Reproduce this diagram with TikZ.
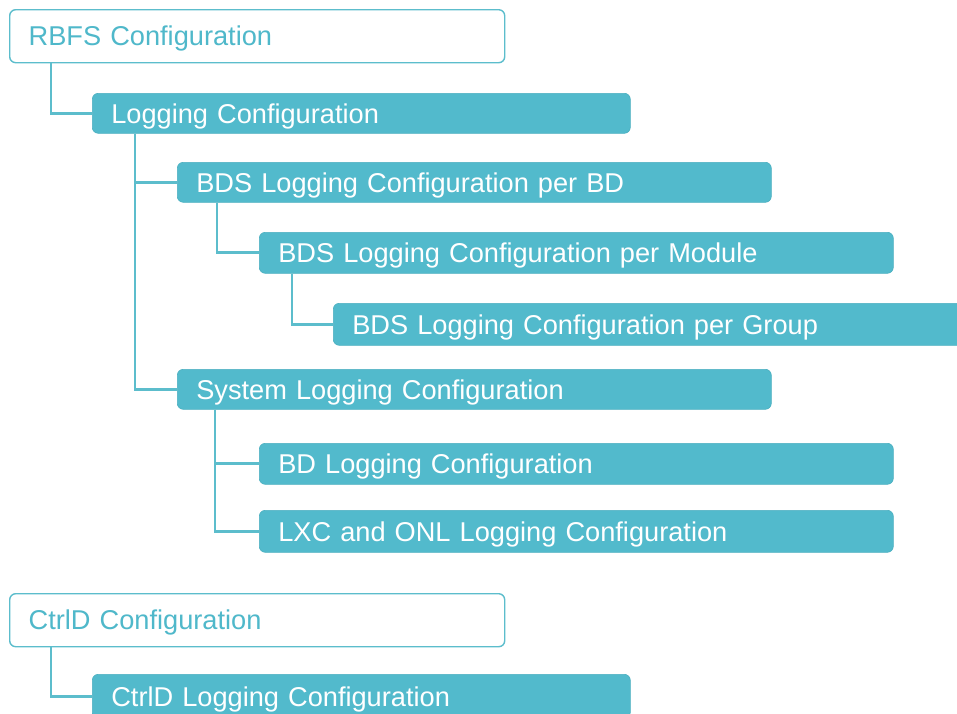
\documentclass[tikz,border=0pt]{standalone}
\usepackage{fontspec}
\setmainfont{Liberation Sans}
\definecolor{teal1}{HTML}{52BACC}
\definecolor{tealline}{HTML}{5CBDCC}
\definecolor{tealtext}{HTML}{4FB8CA}
\definecolor{filledge}{HTML}{4AAFC0}
\begin{document}
\begin{tikzpicture}[x=1pt,y=-1pt,
  base/.style={rectangle, rounded corners=6pt, anchor=north west, align=left,
    inner xsep=19pt, inner ysep=0pt, text height=19.5pt, text depth=0pt,
    font=\fontsize{27.2}{31}\selectfont},
  topbox/.style={base, draw=tealline, line width=1.4pt, fill=white, text=tealtext},
  subbox/.style={base, draw=filledge, line width=0.6pt, fill=teal1, text=white},
  conn/.style={draw=tealline, line width=2.8pt}]
\useasboundingbox (0,0) rectangle (957,713);
\clip (0,0) rectangle (957,713);
% nodes
\node[topbox, text width=457pt, minimum height=53pt] (rbfs) at (9,9) {RBFS Configuration};
\node[subbox, text width=500pt, minimum height=40pt] (log) at (92,93) {Logging Configuration};
\node[subbox, text width=556pt, minimum height=40pt] (bdsbd) at (177,162) {BDS Logging Configuration per BD};
\node[subbox, text width=596pt, minimum height=41pt] (bdsmod) at (259,232) {BDS Logging Configuration per Module};
\node[subbox, text width=602pt, minimum height=42pt] (bdsgrp) at (333,303) {BDS Logging Configuration per Group};
\node[subbox, text width=556pt, minimum height=40pt] (sys) at (177,369) {System Logging Configuration};
\node[subbox, text width=596pt, minimum height=41pt] (bdlog) at (259,443) {BD Logging Configuration};
\node[subbox, text width=596pt, minimum height=42pt] (lxc) at (259,510) {LXC and ONL Logging Configuration};
\node[topbox, text width=457pt, minimum height=53pt] (ctrld) at (9,593) {CtrlD Configuration};
\node[subbox, text width=500pt, minimum height=44pt] (ctrldlog) at (92,674) {CtrlD Logging Configuration};
% connectors
\draw[conn] (rbfs.south west) ++(42,0) |- (log.west);
\draw[conn] (log.south west) ++(43,0) |- (bdsbd.west);
\draw[conn] (log.south west) ++(43,0) |- (sys.west);
\draw[conn] (bdsbd.south west) ++(40,0) |- (bdsmod.west);
\draw[conn] (bdsmod.south west) ++(33,0) |- (bdsgrp.west);
\draw[conn] (sys.south west) ++(38,0) |- (bdlog.west);
\draw[conn] (sys.south west) ++(38,0) |- (lxc.west);
\draw[conn] (ctrld.south west) ++(42,0) |- (ctrldlog.west);
\end{tikzpicture}
\end{document}
